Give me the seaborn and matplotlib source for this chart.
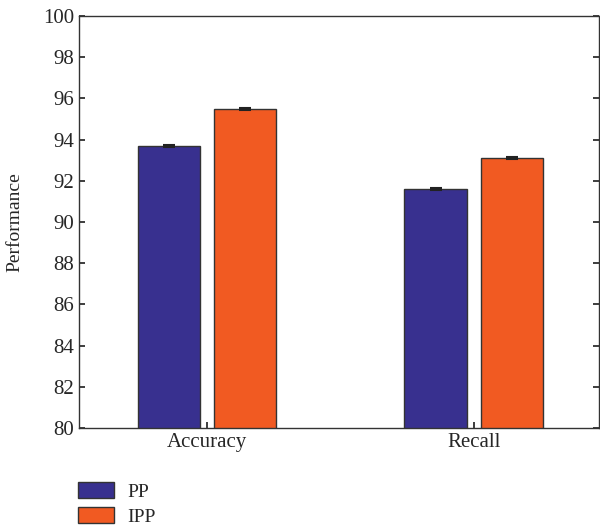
import seaborn as sns
import matplotlib.pyplot as plt
import pandas as pd

categories = ["Accuracy", "Recall"]
methods = ["PP", "IPP"]
pp_values = [93.7, 91.6]
ipp_values = [95.5, 93.1]
pp_err = [0.04, 0.04]
ipp_err = [0.04, 0.04]

df = pd.DataFrame({
    "metric": categories * 2,
    "method": ["PP"] * 2 + ["IPP"] * 2,
    "value": pp_values + ipp_values,
})
errs = pp_err + ipp_err

sns.set_theme(style="ticks")
plt.rcParams["font.family"] = ["Liberation Serif", "DejaVu Serif"]

fig = plt.figure(figsize=(6, 5.3), dpi=100)
ax = fig.add_axes([79 / 600, 1 - 428 / 530, 520 / 600, 412 / 530])

sns.barplot(
    data=df, x="metric", y="value", hue="method",
    hue_order=methods, order=categories,
    palette=["#38308F", "#F15A22"], saturation=1,
    width=0.572, gap=0.184, edgecolor="#333333", linewidth=1.0,
    errorbar=None, ax=ax,
)

# error bars on top of each bar
for patch, err in zip(ax.patches, errs):
    cx = patch.get_x() + patch.get_width() / 2
    ax.errorbar(cx, patch.get_height(), yerr=err, color="#222222",
                capsize=4, capthick=1.5, elinewidth=1.0)

ax.set_ylim(80, 100)
ax.set_yticks(range(80, 101, 2))
ax.set_xlim(-0.48, 1.47)
ax.set_xlabel("")
ax.set_ylabel("Performance", fontsize=14, labelpad=14)
ax.tick_params(direction="in", labelsize=15, length=4, right=True)
for s in ax.spines.values():
    s.set_color("#333333")
    s.set_linewidth(1.0)

ax.legend(
    title=None, loc="upper left", bbox_to_anchor=(-0.002, -0.132),
    frameon=False, fontsize=14, handlelength=1.85, handleheight=0.88,
    labelspacing=0.3, borderaxespad=0, borderpad=0, handletextpad=0.68,
)

fig.savefig("out.png", dpi=100)
